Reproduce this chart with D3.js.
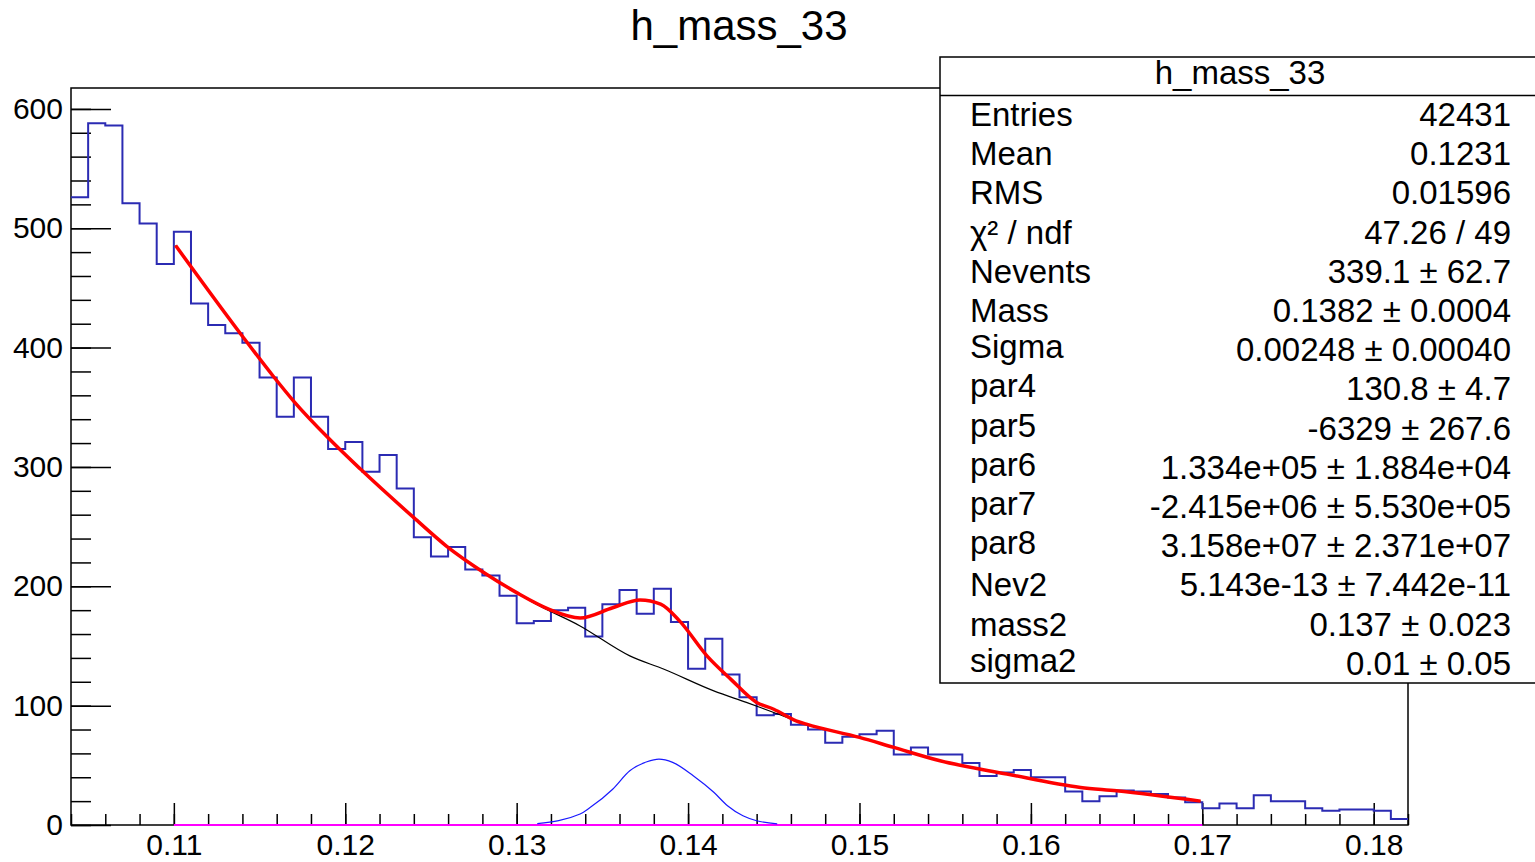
<!DOCTYPE html>
<html>
<head>
<script src="https://d3js.org/d3.v7.min.js" charset="utf-8"></script>
<style>
    body{
        margin:0;
        background:#fff;
        font-family:"Liberation Sans",Arial,Helvetica,sans-serif;
    }
</style>
</head>
<body>
<div id="chart"></div>
<script>

    // histogram: 78 bins of 0.001 from 0.104
    var binLow = 0.104
    var binWidth = 0.001
    var counts = [526,588,586,521,504,470,497,437,419,412,
                  404,375,342,375,342,315,321,296,310,282,
                  241,225,233,214,209,192,169,171,180,182,
                  158,185,197,177,198,170,131,156,126,107,
                  92,93,84,80,69,74,76,79,59,65,
                  59,59,52,41,44,46,40,40,28,20,
                  24,29,28,26,23,19,14,18,14,25,
                  20,20,14,12,13,13,12,5]

    // fit curves [x, value]
    var fitTotal = [[0.1101,485.6],[0.1140,409.5],[0.1158,376],[0.1170,355],[0.1190,324.4],
                    [0.1209,298],[0.1240,257.5],[0.1259,233.7],[0.1281,211.4],[0.1300,194.7],
                    [0.1319,180.7],[0.1337,173.5],[0.1356,182],[0.1372,188.5],[0.1384,185],
                    [0.1395,171],[0.1411,141.7],[0.1425,122],[0.1440,102.7],[0.1450,97],
                    [0.1463,87.3],[0.1469,84.5],[0.1500,73.4],[0.1520,65],[0.1547,53.8],
                    [0.1586,42.7],[0.1629,31.5],[0.1650,28.7],[0.1699,20]]
    var fitBackground = [[0.1101,485.6],[0.1140,409.5],[0.1158,376],[0.1170,355],[0.1190,324.4],
                    [0.1209,298],[0.1240,257.5],[0.1259,233.7],[0.1281,211.4],[0.1300,194.7],
                    [0.1308,187.7],[0.1337,166.8],[0.1366,141.7],[0.1386,130.5],[0.1415,112.4],
                    [0.1434,102.7],[0.1450,94.3],[0.1469,84.5],[0.1500,73.4],[0.1520,65],
                    [0.1547,53.8],[0.1586,42.7],[0.1629,31.5],[0.1650,28.7],[0.1699,20]]
    var fitSignal = [[0.1312,1.2],[0.1337,9.2],[0.1343,14.8],[0.1356,30],[0.1366,45.4],
                     [0.1376,53],[0.1383,55.2],[0.1391,52.5],[0.1403,41.3],[0.1415,27.4],
                     [0.1423,16.2],[0.1432,7.8],[0.1440,3.6],[0.1452,1]]
    var fitSecond = [[0.11,0],[0.17,0]]

    var xMajor = [0.11,0.12,0.13,0.14,0.15,0.16,0.17,0.18]
    var xMinor = d3.range(0,40).map(function(i){return Math.round((0.104+i*0.002)*1000)/1000})
    var yMajor = [0,100,200,300,400,500,600]
    var yMinor = d3.range(0,31).map(function(i){return i*20})

    var title = "h_mass_33"
    var statNames = ["Entries","Mean","RMS","\u03c7\u00b2 / ndf","Nevents","Mass","Sigma",
                     "par4","par5","par6","par7","par8","Nev2","mass2","sigma2"]
    var statValues = ["42431","0.1231","0.01596","47.26 / 49","339.1 \u00b1 62.7",
                      "0.1382 \u00b1 0.0004","0.00248 \u00b1 0.00040","130.8 \u00b1 4.7",
                      "-6329 \u00b1 267.6","1.334e+05 \u00b1 1.884e+04","-2.415e+06 \u00b1 5.530e+05",
                      "3.158e+07 \u00b1 2.371e+07","5.143e-13 \u00b1 7.442e-11","0.137 \u00b1 0.023",
                      "0.01 \u00b1 0.05"]

    var W = 1535, H = 862
    var padL = 71, padR = 1408, padT = 88, padB = 825

    var xScale = d3.scaleLinear().domain([0.104,0.182]).range([padL,padR])
    var yScale = d3.scaleLinear().domain([0,617.5]).range([padB,padT])

    var svg = d3.select("#chart").append("svg")
        .attr("width",W).attr("height",H)
        .style("display","block")

    svg.append("rect").attr("width",W).attr("height",H).attr("fill","#fff")

    // title
    svg.append("text").text(title)
        .attr("x",739).attr("y",40)
        .attr("text-anchor","middle")
        .attr("font-size",42)
        .attr("fill","#000")

    // frame first, marks go on top of it
    svg.append("rect")
        .attr("x",padL).attr("y",padT)
        .attr("width",padR-padL).attr("height",padB-padT)
        .attr("fill","none").attr("stroke","#000").attr("stroke-width",1.5)

    // axes
    var xAxisMajor = d3.axisBottom(xScale).tickValues(xMajor).tickSize(-22).tickPadding(9)
        .tickFormat(d3.format(".2f"))
    var xAxisMinor = d3.axisBottom(xScale).tickValues(xMinor).tickSize(-11).tickFormat("")
    var yAxisMajor = d3.axisLeft(yScale).tickValues(yMajor).tickSize(-40).tickPadding(8)
        .tickFormat(d3.format("d"))
    var yAxisMinor = d3.axisLeft(yScale).tickValues(yMinor).tickSize(-20).tickFormat("")

    function styleAxis(g){
        g.select(".domain").remove()
        g.selectAll("line").attr("stroke","#000").attr("stroke-width",1.5)
        g.selectAll("text").attr("font-size",30).attr("fill","#000")
            .attr("font-family","'Liberation Sans',Arial,Helvetica,sans-serif")
    }

    svg.append("g").attr("transform","translate(0,"+padB+")").call(xAxisMinor).call(styleAxis)
    svg.append("g").attr("transform","translate(0,"+padB+")").call(xAxisMajor).call(styleAxis)
    svg.append("g").attr("transform","translate("+padL+",0)").call(yAxisMinor).call(styleAxis)
    svg.append("g").attr("transform","translate("+padL+",0)").call(yAxisMajor).call(styleAxis)

    // histogram outline
    var histPts = counts.map(function(c,i){return [binLow+i*binWidth,c]})
    histPts.push([binLow+counts.length*binWidth,counts[counts.length-1]])
    var stepLine = d3.line()
        .x(function(d){return xScale(d[0])})
        .y(function(d){return yScale(d[1])})
        .curve(d3.curveStepAfter)
    svg.append("path").attr("d",stepLine(histPts))
        .attr("fill","none").attr("stroke","#2b2bb3").attr("stroke-width",2)

    var smooth = d3.line()
        .x(function(d){return xScale(d[0])})
        .y(function(d){return yScale(d[1])})
        .curve(d3.curveMonotoneX)

    svg.append("path").attr("d",smooth(fitSecond))
        .attr("fill","none").attr("stroke","#ff00ff").attr("stroke-width",2)

    svg.append("path").attr("d",smooth(fitSignal))
        .attr("fill","none").attr("stroke","#1a1aff").attr("stroke-width",1.2)

    svg.append("path").attr("d",smooth(fitBackground))
        .attr("fill","none").attr("stroke","#000").attr("stroke-width",1.2)

    svg.append("path").attr("d",smooth(fitTotal))
        .attr("fill","none").attr("stroke","#ff0000").attr("stroke-width",3.5)

    // stats box
    var bx = 940, by = 57, bw = 620, bh = 626
    var stats = svg.append("g")
    stats.append("rect").attr("x",bx).attr("y",by).attr("width",bw).attr("height",bh)
        .attr("fill","#fff").attr("stroke","#000").attr("stroke-width",1.5)
    stats.append("line").attr("x1",bx).attr("x2",W).attr("y1",95.5).attr("y2",95.5)
        .attr("stroke","#000").attr("stroke-width",1.5)
    stats.append("text").text(title)
        .attr("x",1240).attr("y",84)
        .attr("text-anchor","middle").attr("font-size",33).attr("fill","#000")

    statNames.forEach(function(name,i){
        var base = 126 + i*39.2
        var shift = /[gpqy]/.test(name) ? -3 : 0
        stats.append("text").text(name)
            .attr("x",970).attr("y",base+shift)
            .attr("font-size",33).attr("fill","#000")
        stats.append("text").text(statValues[i])
            .attr("x",1511).attr("y",base)
            .attr("text-anchor","end")
            .attr("font-size",33).attr("fill","#000")
    })

</script>
</body>
</html>
